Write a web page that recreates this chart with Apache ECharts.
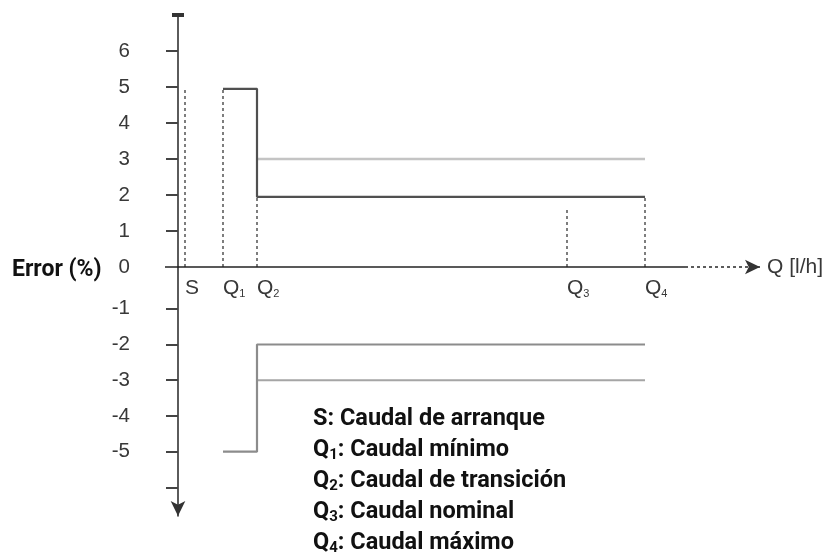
<!DOCTYPE html>
<html>
<head>
<meta charset="utf-8">
<script src="https://cdn.jsdelivr.net/npm/echarts@6.0.0/dist/echarts.min.js"></script>
<style>
html, body { margin: 0; padding: 0; background: #fff; }
#chart { width: 827px; height: 557px; }
</style>
</head>
<body>
<div id="chart"></div>
<script>
// x positions of the flow points (arbitrary units along Q)
var xLabels = ['S', 'Q1', 'Q2', 'Q3', 'Q4'];
var xTicks = [7, 45, 79, 389, 467];

// y tick labels
var upperTicks = [0, 1, 2, 3, 4, 5, 6];
var lowerTicks = [-5, -4, -3, -2, -1];

// error limit lines
var upperLimit = [[45, 4.95], [79, 4.95], [79, 1.95], [467, 1.95]];
var upperInner = [[79, 3], [467, 3]];
var lowerLimit = [[45, -5], [79, -5], [79, -2], [467, -2]];
var lowerInner = [[79, -3], [467, -3]];

// dashed guide heights at each flow point
var guideTop = [5, 5, 1.95, 1.67, 1.95];

var legendLines = [
    ['S', '', ': Caudal de arranque'],
    ['Q', '1', ': Caudal mínimo'],
    ['Q', '2', ': Caudal de transición'],
    ['Q', '3', ': Caudal nominal'],
    ['Q', '4', ': Caudal máximo']
];

var myChart = echarts.init(document.getElementById('chart'));

var labelFont = 'Liberation Sans';
var labelColor = '#383838';

var guides = [];
for (var i = 0; i < xTicks.length; i++) {
    guides.push({
        type: 'line',
        xAxisIndex: 0,
        yAxisIndex: 0,
        symbol: 'none',
        silent: true,
        lineStyle: { color: '#707070', width: 1.8, type: [3, 3] },
        data: [[xTicks[i], 0], [xTicks[i], guideTop[i]]]
    });
}

var legendText = legendLines.map(function (l) {
    if (l[1]) return '{b|' + l[0] + '}{s|' + l[1] + '}{b|' + l[2] + '}';
    return '{b|' + l[0] + l[2] + '}';
}).join('\n');

var option = {
    animation: false,
    backgroundColor: '#fff',
    title: [{
        text: 'Error (%)',
        left: 12,
        top: 259,
        padding: 0,
        textStyle: { fontFamily: 'Roboto', fontWeight: 'bold', fontSize: 23, color: '#111' }
    }, {
        text: legendText,
        left: 313,
        top: 404,
        padding: 0,
        textStyle: {
            rich: {
                b: { fontFamily: 'Roboto', fontWeight: 'bold', fontSize: 23.5, color: '#111', lineHeight: 31 },
                s: { fontFamily: 'Roboto', fontWeight: 'bold', fontSize: 15, color: '#111', lineHeight: 31,
                     verticalAlign: 'bottom', padding: [0, 0, 3, 0] }
            }
        }
    }],
    grid: [
        { left: 165, right: 64, top: 15, height: 252 },
        { left: 165, right: 64, top: 267, height: 249 }
    ],
    xAxis: [{
        gridIndex: 0,
        type: 'value',
        min: -13,
        max: 585,
        name: 'Q [l/h]',
        nameLocation: 'end',
        nameGap: 4,
        nameTextStyle: { fontFamily: labelFont, fontSize: 21, color: labelColor,
                         align: 'left', verticalAlign: 'middle', padding: [0, 0, 26, 0] },
        axisLine: { show: false },
        axisTick: { show: false },
        splitLine: { show: false },
        axisLabel: {
            customValues: xTicks,
            align: 'left',
            margin: 10,
            formatter: function (v) {
                var l = xLabels[xTicks.indexOf(v)];
                if (l.length > 1) return '{m|' + l[0] + '}{s|' + l.slice(1) + '}';
                return '{m|' + l + '}';
            },
            rich: {
                m: { fontFamily: labelFont, fontSize: 21, color: labelColor, lineHeight: 22 },
                s: { fontFamily: labelFont, fontSize: 11, color: labelColor, lineHeight: 22,
                     verticalAlign: 'bottom' }
            }
        }
    }, {
        gridIndex: 1,
        type: 'value',
        min: -13,
        max: 585,
        show: false
    }],
    yAxis: [{
        gridIndex: 0,
        type: 'value',
        min: 0,
        max: 7,
        axisLine: {
            show: true,
            onZero: true,
            symbol: ['none', 'rect'],
            symbolSize: [12, 4],
            lineStyle: { color: '#333', width: 1.6 }
        },
        axisTick: { show: true, customValues: [1, 2, 3, 4, 5, 6], length: 12,
                    lineStyle: { color: '#444', width: 2 } },
        axisLabel: { customValues: upperTicks, margin: 35, fontFamily: labelFont, fontSize: 20.5, color: labelColor },
        splitLine: { show: false }
    }, {
        gridIndex: 1,
        type: 'value',
        min: -6.8,
        max: 0.17,
        axisLine: {
            show: true,
            onZero: true,
            symbol: ['arrow', 'none'],
            symbolSize: [11, 15],
            lineStyle: { color: '#333', width: 1.6 }
        },
        axisTick: { show: true, customValues: [-6, -5, -4, -3, -2, -1], length: 12,
                    lineStyle: { color: '#444', width: 2 } },
        axisLabel: { customValues: lowerTicks, margin: 35, fontFamily: labelFont, fontSize: 20.5, color: labelColor },
        splitLine: { show: false }
    }],
    series: [{
        // Q axis drawn as marker lines (solid part + dotted extension)
        type: 'line',
        xAxisIndex: 0,
        yAxisIndex: 0,
        data: [],
        silent: true,
        markLine: {
            silent: true,
            symbol: 'none',
            label: { show: false },
            animation: false,
            data: [
                [{ coord: [-13, 0], lineStyle: { color: '#222', width: 1.6, type: 'solid' } }, { coord: [507, 0] }],
                [{ coord: [507, 0], symbol: 'none', lineStyle: { color: '#333', width: 1.6, type: [3, 3] } },
                 { coord: [582, 0], symbol: 'arrow', symbolSize: [11, 15] }]
            ]
        }
    }, {
        type: 'line',
        xAxisIndex: 0,
        yAxisIndex: 0,
        symbol: 'none',
        lineStyle: { color: '#c4c4c4', width: 2.5 },
        data: upperInner
    }, {
        type: 'line',
        xAxisIndex: 0,
        yAxisIndex: 0,
        symbol: 'none',
        lineStyle: { color: '#505050', width: 2.2 },
        data: upperLimit
    }, {
        type: 'line',
        xAxisIndex: 1,
        yAxisIndex: 1,
        symbol: 'none',
        lineStyle: { color: '#a5a5a5', width: 2.2 },
        data: lowerInner
    }, {
        type: 'line',
        xAxisIndex: 1,
        yAxisIndex: 1,
        symbol: 'none',
        lineStyle: { color: '#8c8c8c', width: 2.2 },
        data: lowerLimit
    }].concat(guides)
};

myChart.setOption(option);

window.addEventListener('resize', function () {
    myChart.resize();
});
</script>
</body>
</html>
